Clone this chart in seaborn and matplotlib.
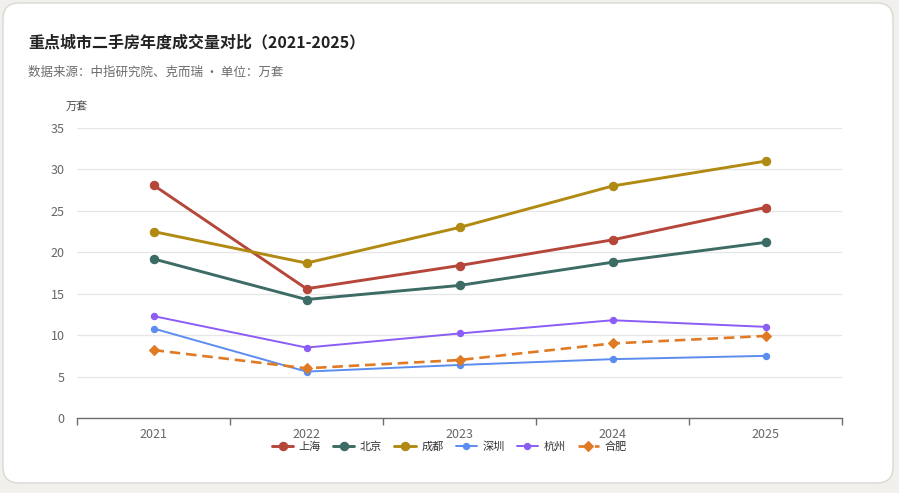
import matplotlib
matplotlib.use("Agg")
import matplotlib.pyplot as plt
from matplotlib.patches import FancyBboxPatch
import seaborn as sns
import pandas as pd
import numpy as np

years = ["2021", "2022", "2023", "2024", "2025"]
cities = ["上海", "北京", "成都", "深圳", "杭州", "合肥"]
shanghai = [28.1, 15.6, 18.4, 21.5, 25.4]
beijing = [19.2, 14.3, 16.0, 18.8, 21.2]
chengdu = [22.5, 18.7, 23.0, 28.0, 31.0]
shenzhen = [10.8, 5.6, 6.4, 7.1, 7.5]
hangzhou = [12.3, 8.5, 10.2, 11.8, 11.0]
hefei = [8.2, 6.0, 7.0, 9.0, 9.9]
yticks = [0, 5, 10, 15, 20, 25, 30, 35]

title = "重点城市二手房年度成交量对比（2021-2025）"
subtitle = "数据来源：中指研究院、克而瑞 · 单位：万套"
unit = "万套"

series = [shanghai, beijing, chengdu, shenzhen, hangzhou, hefei]
colors = ["#b5473a", "#3d6b65", "#b08a12", "#5b8def", "#8b5cf6", "#e07a24"]
widths = [2.1, 2.1, 2.1, 1.4, 1.4, 1.9]
msizes = [6, 6, 6, 4.5, 4.5, 5]
markers = ["o", "o", "o", "o", "o", "D"]
dashed = [False, False, False, False, False, True]

sns.set_theme(style="white")
plt.rcParams['font.family'] = ['Noto Sans CJK SC', 'DejaVu Sans']

fig = plt.figure(figsize=(8.99, 4.93), dpi=100)
fig.patch.set_facecolor("#f1f0ed")
card = FancyBboxPatch((3/899, 10/493), 890/899, 480/493,
                      boxstyle="round,pad=0,rounding_size=0.018",
                      transform=fig.transFigure, facecolor="white",
                      edgecolor="#d9d8d4", linewidth=1.0, zorder=-10,
                      mutation_aspect=899/493)
fig.patches.append(card)

ax = fig.add_axes([77/899, 75/493, 765/899, 290/493])
ax.set_facecolor("none")
ax.set_zorder(1)

x = np.arange(len(years))
for name, vals, c, lw, ms, mk, dsh in zip(cities, series, colors, widths, msizes, markers, dashed):
    df = pd.DataFrame({"x": x, "y": vals})
    sns.lineplot(data=df, x="x", y="y", ax=ax, color=c, linewidth=lw,
                 marker=mk, markersize=ms,
                 markeredgecolor=c, markeredgewidth=0.8,
                 linestyle=(0, (4, 2.2)) if dsh else "-", label=name, zorder=3)

ax.set_xlim(-0.5, len(years) - 0.5)
ax.set_ylim(0, 35)
ax.set_yticks(yticks)
ax.set_yticklabels([str(v) for v in yticks], color="#666666", fontsize=9)
ax.set_xticks(x)
ax.set_xticklabels(years, color="#666666", fontsize=9)
ax.set_xticks(np.arange(-0.5, len(years)), minor=True)
ax.tick_params(axis="x", which="major", length=0, pad=7)
ax.tick_params(axis="x", which="minor", length=5, color="#6e6e6e", width=1, direction="out", bottom=True)
ax.tick_params(axis="y", length=0, pad=9)
ax.grid(axis="y", color="#e6e6e6", linewidth=0.9)
ax.set_axisbelow(True)
for s in ["top", "right", "left"]:
    ax.spines[s].set_visible(False)
ax.spines["bottom"].set_color("#6e6e6e")
ax.spines["bottom"].set_linewidth(1.0)
ax.set_xlabel("")
ax.set_ylabel("")

handles, labels = ax.get_legend_handles_labels()
if ax.legend_:
    ax.legend_.remove()
fig.legend(handles, labels, loc="center", bbox_to_anchor=(0.5, 46/493), ncol=6,
           frameon=False, fontsize=8, handlelength=1.9, handletextpad=0.5,
           columnspacing=1.1, labelcolor="#333333")

fig.text(28/899, 1 - 42/493, title, fontsize=11.5, fontweight="bold", color="#222222",
         ha="left", va="center")
fig.text(28/899, 1 - 72/493, subtitle, fontsize=9, color="#6b6b6b", ha="left", va="center")
fig.text(66/899, 1 - 106/493, unit, fontsize=8, color="#444444", ha="left", va="center")

fig.savefig("out.png", dpi=100, facecolor=fig.get_facecolor())
